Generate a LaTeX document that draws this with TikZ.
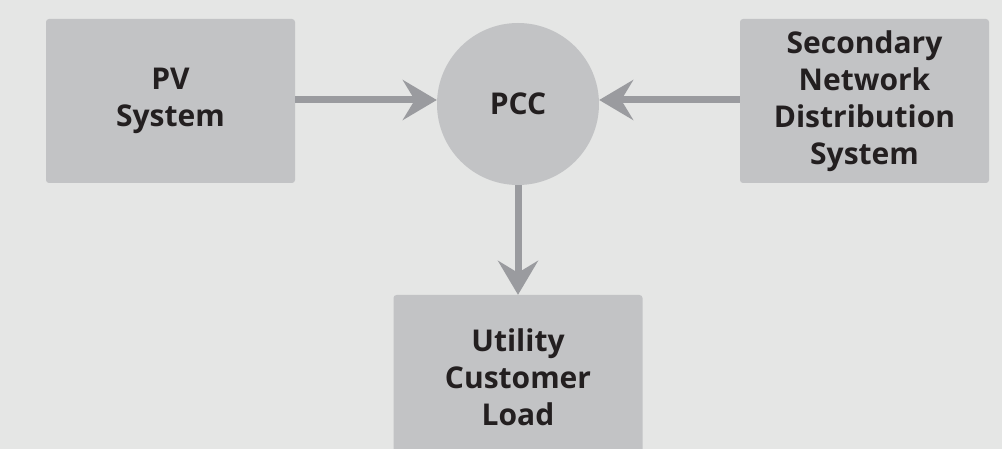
\documentclass[tikz,border=0pt]{standalone}
\usepackage{fontspec}
\setmainfont{Open Sans}
\usetikzlibrary{arrows.meta}
\definecolor{bg}{HTML}{E5E6E5}
\definecolor{boxfill}{HTML}{C2C3C5}
\definecolor{linkcol}{HTML}{9A9B9F}
\definecolor{ink}{HTML}{231F20}
\begin{document}
\begin{tikzpicture}[x=1pt,y=-1pt,
  blocktext/.style={text=ink, font=\bfseries\fontsize{30}{37}\selectfont, align=center, inner sep=0pt},
  blockbox/.style={blocktext, fill=boxfill, rounded corners=3pt, minimum width=249pt, minimum height=164pt},
  hub/.style={blocktext, circle, fill=boxfill, minimum size=162pt},
  link/.style={draw=linkcol, line width=7pt, -{Stealth[length=34pt,width=40pt,inset=12pt]}}]
\useasboundingbox (0,0) rectangle (1002,449);
\clip (0,0) rectangle (1002,449);
\fill[bg] (0,0) rectangle (1002,449);

% blocks
\node[blockbox] (pv) at (170.5,101) {PV\\System};
\node[hub] (pcc) at (518,104) {PCC};
\node[blockbox] (sec) at (864.5,101) {Secondary\\Network\\Distribution\\System};
\node[blockbox] (load) at (518,377) {Utility\\Customer\\Load};

% power flows into and out of the coupling point
\draw[link] (pv.east |- 0,100) -- (pcc.west |- 0,100);
\draw[link] (sec.west |- 0,100) -- (pcc.east |- 0,100);
\draw[link] (pcc.south) -- (load.north);
\end{tikzpicture}
\end{document}
